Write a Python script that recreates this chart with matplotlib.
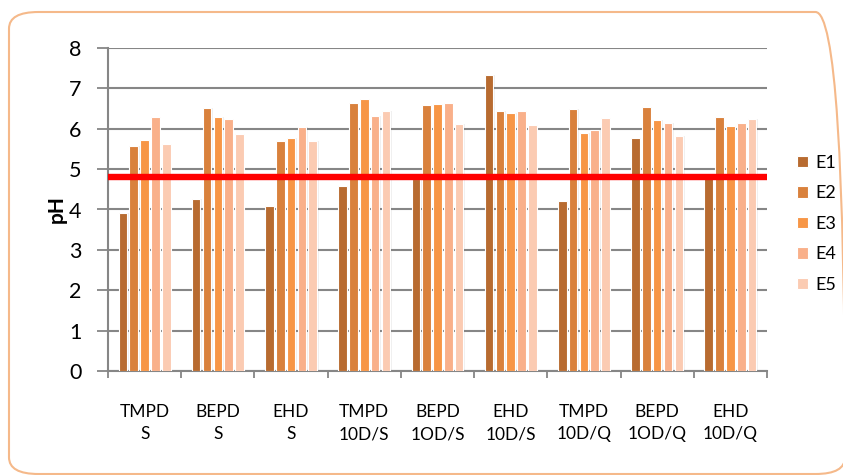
import numpy as np
import matplotlib.pyplot as plt
from matplotlib.patches import FancyBboxPatch

# pH per sample group, one list per extraction E1..E5
groups = ['TMPD\nS', 'BEPD\nS', 'EHD\nS', 'TMPD\n10D/S', 'BEPD\n1OD/S',
          'EHD\n10D/S', 'TMPD\n10D/Q', 'BEPD\n1OD/Q', 'EHD\n10D/Q']
series = ['E1', 'E2', 'E3', 'E4', 'E5']
E1 = [3.92, 4.27, 4.08, 4.59, 4.75, 7.33, 4.22, 5.77, 4.80]
E2 = [5.57, 6.52, 5.70, 6.65, 6.60, 6.44, 6.49, 6.53, 6.29]
E3 = [5.73, 6.29, 5.76, 6.74, 6.62, 6.40, 5.90, 6.21, 6.08]
E4 = [6.29, 6.23, 6.05, 6.31, 6.65, 6.44, 5.97, 6.15, 6.15]
E5 = [5.61, 5.87, 5.70, 6.44, 6.13, 6.09, 6.27, 5.83, 6.23]
limit = 4.8

colors = ['#B86B30', '#D9813C', '#F79646', '#F9B08A', '#FBCBB2']
plt.rcParams['font.family'] = ['Lato', 'DejaVu Sans']

W, H = 843, 475
fig = plt.figure(figsize=(W / 100, H / 100), dpi=100)
fig.patch.set_facecolor('white')

# rounded frame around the whole chart (runs off the right edge)
frame = FancyBboxPatch((9 / W, 1 / H), 836 / W, 462 / H,
                       boxstyle='round,pad=0,rounding_size=0.035',
                       transform=fig.transFigure, facecolor='none',
                       edgecolor='#F5B98A', linewidth=1.5, zorder=0)
fig.patches.append(frame)

ax = fig.add_axes([108 / W, 104 / H, 659 / W, 323 / H])
x = np.arange(len(groups))
pitch = 0.148
width = 0.118
for i, (name, vals) in enumerate(zip(series, [E1, E2, E3, E4, E5])):
    pos = x + (i - 2) * pitch
    # soft shadow behind each bar
    ax.bar(pos + 0.01, vals, width + 0.02, color='#000000', alpha=0.06,
           zorder=2, linewidth=0)
    ax.bar(pos, vals, width, color=colors[i], edgecolor='white',
           linewidth=0.8, zorder=3, label=name)

ax.axhline(limit, color='#FF0000', linewidth=4.6, zorder=4)

ax.set_xlim(-0.5, len(groups) - 0.5)
ax.set_ylim(0, 8)
ax.set_yticks(range(0, 9))
ax.yaxis.grid(True, color='#868686', linewidth=1.5, zorder=0)
ax.set_axisbelow(True)

ax.set_xticks(x)
ax.set_xticklabels(groups, fontsize=12.5, linespacing=1.45)
ax.set_xticks(np.arange(-0.5, len(groups)), minor=True)
ax.tick_params(axis='x', which='major', length=0, pad=24)
ax.tick_params(axis='x', which='minor', length=5, width=1.3, color='#868686')
ax.tick_params(axis='y', length=8, width=1.3, color='#868686',
               labelsize=15.5, pad=11)

for s in ['top', 'right']:
    ax.spines[s].set_visible(False)
for s in ['left', 'bottom']:
    ax.spines[s].set_color('#868686')
    ax.spines[s].set_linewidth(1.5)

ax.set_ylabel('pH', fontsize=15, fontweight='bold', labelpad=2)

handles, labels = ax.get_legend_handles_labels()
fig.legend(handles, labels, loc='upper left',
           bbox_to_anchor=(797 / W, 1 - 155 / H), borderpad=0, borderaxespad=0,
           frameon=False, fontsize=13, handlelength=0.6, handleheight=0.6,
           labelspacing=0.8, handletextpad=0.4)

fig.savefig('out.png', dpi=100)
